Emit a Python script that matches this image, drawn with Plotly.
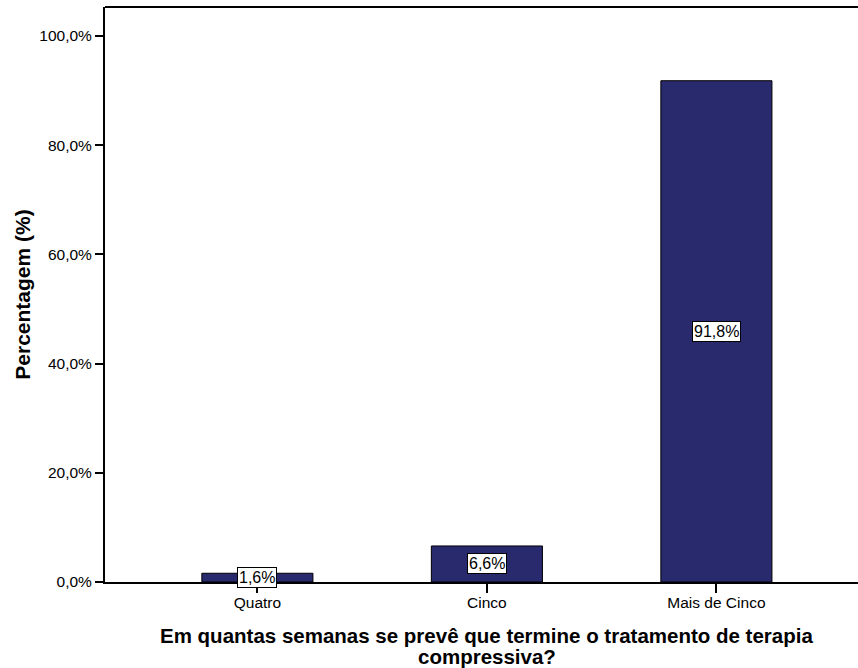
import plotly.graph_objects as go

categories = ["Quatro", "Cinco", "Mais de Cinco"]
values = [1.6, 6.6, 91.8]
labels = ["1,6%", "6,6%", "91,8%"]
y_ticks = [0, 20, 40, 60, 80, 100]
y_tick_labels = ["0,0%", "20,0%", "40,0%", "60,0%", "80,0%", "100,0%"]

x_title_lines = ["Em quantas semanas se prevê que termine o tratamento de terapia",
                 "compressiva?"]
y_title = "Percentagem (%)"

bar_color = "#29296e"
font_family = "Liberation Sans, Arial, sans-serif"

fig = go.Figure()
fig.add_trace(go.Bar(
    x=list(range(len(categories))),
    y=values,
    width=0.484,
    marker=dict(color=bar_color, line=dict(color="black", width=1)),
    hoverinfo="skip",
))

for i, (v, lab) in enumerate(zip(values, labels)):
    fig.add_annotation(
        x=i, y=v / 2, text=lab, showarrow=False,
        font=dict(family=font_family, size=16, color="black"),
        bgcolor="white", bordercolor="black", borderwidth=1, borderpad=1,
        xref="x", yref="y",
    )

for line, ypos in zip(x_title_lines, [-0.0922, -0.1304]):
    fig.add_annotation(
        x=1, y=ypos, xref="x", yref="paper", text="<b>" + line + "</b>",
        showarrow=False, yanchor="middle",
        font=dict(family=font_family, size=20.5, color="black"),
    )

fig.add_annotation(
    x=-0.11, y=0.5, xref="paper", yref="paper", text="<b>" + y_title + "</b>",
    showarrow=False, textangle=-90, xanchor="center", yanchor="middle",
    font=dict(family=font_family, size=21, color="black"),
)

fig.add_shape(type="line", xref="paper", yref="paper", x0=0, x1=1, y0=1, y1=1,
              line=dict(color="black", width=2))

fig.update_layout(
    width=858, height=668,
    margin=dict(l=105, r=0, t=7, b=86),
    paper_bgcolor="white", plot_bgcolor="white",
    showlegend=False,
    font=dict(family=font_family, color="black"),
    xaxis=dict(
        range=[-0.664, 2.617],
        tickvals=list(range(len(categories))), ticktext=categories,
        showline=True, linecolor="black", linewidth=2,
        ticks="outside", ticklen=9, tickwidth=1.5, tickcolor="black",
        ticklabelstandoff=-4,
        tickfont=dict(size=15.5, family=font_family, color="black"),
        showgrid=False, zeroline=False,
    ),
    yaxis=dict(
        range=[0, 105.3],
        tickvals=y_ticks, ticktext=y_tick_labels,
        showline=True, linecolor="black", linewidth=2,
        ticks="outside", ticklen=8, tickwidth=2, tickcolor="black",
        tickfont=dict(size=15.5, family=font_family, color="black"),
        showgrid=False, zeroline=False,
    ),
)

fig.write_html("out.html", config={"displayModeBar": False},
               post_script="document.body.style.margin='0';document.body.style.overflow='hidden';")
